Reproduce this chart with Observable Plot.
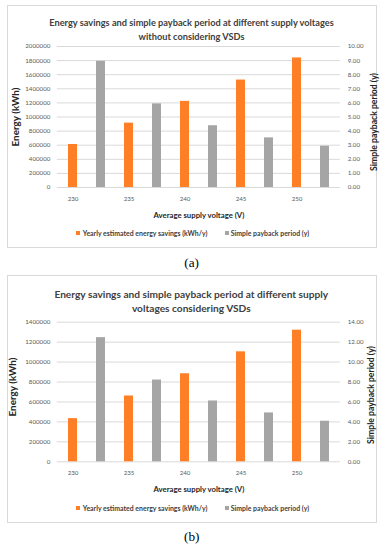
<!DOCTYPE html>
<html>
<head>
<meta charset="utf-8">
<script src="https://cdn.jsdelivr.net/npm/d3@7"></script>
<script src="https://cdn.jsdelivr.net/npm/@observablehq/plot@0.6"></script>
<style>
  html, body { margin: 0; padding: 0; background: #fff; }
  #root { position: relative; width: 383px; height: 550px; overflow: hidden; background: #fff; font-family: Lato, "Open Sans", sans-serif; }
  .box { position: absolute; border: 1px solid #d9d9d9; box-sizing: border-box; }
  .t { position: absolute; white-space: nowrap; line-height: 1; }
  .c { transform: translate(-50%, -50%); }
  .l { transform: translate(0, -50%); }
  .r { transform: translate(-50%, -50%) rotate(-90deg); }
  .sq { position: absolute; width: 4px; height: 4px; transform: translate(0, -50%); }
  .plot { position: absolute; }
  #measure { position: absolute; left: 0; top: 0; white-space: nowrap; font-size: 20px; visibility: hidden; }
</style>
</head>
<body>
<div id="root"></div>
<span id="measure"></span>
<script>
// ---- data ----
const voltages = [230, 235, 240, 245, 250];
// (a) without considering VSDs
const savingsA = [610000, 913000, 1222000, 1524000, 1838000];   // kWh/y
const paybackA = [8.95, 5.93, 4.38, 3.52, 2.93];                 // years
const energyTicksA = [0, 200000, 400000, 600000, 800000, 1000000, 1200000, 1400000, 1600000, 1800000, 2000000];
const paybackTicksA = [0, 1, 2, 3, 4, 5, 6, 7, 8, 9, 10];
// (b) considering VSDs
const savingsB = [433000, 660000, 883000, 1103000, 1320000];
const paybackB = [12.45, 8.2, 6.1, 4.9, 4.07];
const energyTicksB = [0, 200000, 400000, 600000, 800000, 1000000, 1200000, 1400000];
const paybackTicksB = [0, 2, 4, 6, 8, 10, 12, 14];

const titleA = ["Energy savings and simple payback period at different supply voltages", "without considering VSDs"];
const titleB = ["Energy savings and simple payback period at different supply", "voltages considering VSDs"];
const xTitle = "Average supply voltage (V)";
const yTitle = "Energy (kWh)";
const y2Title = "Simple payback period (y)";
const seriesNames = ["Yearly estimated energy savings (kWh/y)", "Simple payback period (y)"];
const colors = ["#ff7f27", "#a5a5a5"];

const FONT = "Lato";
const root = document.getElementById("root");
const meas = document.getElementById("measure");
function fit(str, weight, family, target) {
  meas.style.fontFamily = family;
  meas.style.fontWeight = weight;
  meas.textContent = str;
  const w = meas.getBoundingClientRect().width;
  return 20 * target / w;
}

const tickSize = fit("2000000", 400, FONT, 25);
const titleSizeA = fit(titleA[0], 700, FONT, 285);
const titleSizeB = fit(titleB[0], 700, FONT, 274);
const ySize = fit(yTitle, 700, FONT, 59);
const y2Size = fit(y2Title, 700, FONT, 98);
const xSize = fit(xTitle, 700, FONT, 91);
const legSize = fit(seriesNames[0], 700, FONT, 125);
const capSize = fit("(a)", 400, "'Liberation Serif'", 14.7);
meas.remove();

function text(str, x, y, cls, style) {
  const d = document.createElement("div");
  d.className = "t " + cls;
  d.textContent = str;
  d.style.left = x + "px";
  d.style.top = y + "px";
  Object.assign(d.style, style || {});
  root.appendChild(d);
  return d;
}

function chart(cfg) {
  const {savings, payback, eTicks, pTicks, left, top, width, height, mt, mb, ml, mr} = cfg;
  const ratio = eTicks[eTicks.length - 1] / pTicks[pTicks.length - 1];
  const rows = voltages.map((v, i) => ({v, s: savings[i], p: payback[i]}));
  const slot = (v, k) => k === 0 ? String(v) : v + "\u00b7";
  const slots = voltages.flatMap(v => [slot(v, 0), slot(v, 1)]);
  const svg = Plot.plot({
    width, height,
    marginTop: mt, marginBottom: mb, marginLeft: ml, marginRight: mr,
    style: {fontFamily: FONT + ", sans-serif", fontSize: tickSize.toFixed(2) + "px", color: "#595959", background: "transparent"},
    x: {type: "band", domain: slots, paddingInner: 0.69, paddingOuter: 0.345, align: 0.5},
    y: {domain: [0, eTicks[eTicks.length - 1]]},
    marks: [
      Plot.gridY(eTicks, {stroke: "#d9d9d9", strokeOpacity: 1}),
      Plot.barY(rows, {x: d => slot(d.v, 0), y: "s", fill: colors[0]}),
      Plot.barY(rows, {x: d => slot(d.v, 1), y: d => d.p * ratio, fill: colors[1]}),
      Plot.axisY(eTicks, {tickSize: 0, tickPadding: 7, tickFormat: d => String(d), label: null, fill: "#595959"}),
      Plot.axisY(pTicks.map(p => p * ratio), {anchor: "right", tickSize: 0, tickPadding: 7.5, tickFormat: d => (d / ratio).toFixed(2), label: null, fill: "#595959"}),
      Plot.axisX(voltages.map(v => slot(v, 0)), {tickSize: 0, tickPadding: 9, label: null, fill: "#595959"})
    ]
  });
  const wrap = document.createElement("div");
  wrap.className = "plot";
  wrap.style.left = left + "px";
  wrap.style.top = top + "px";
  wrap.appendChild(svg);
  root.appendChild(wrap);
}

function box(x, y, w, h) {
  const b = document.createElement("div");
  b.className = "box";
  Object.assign(b.style, {left: x + "px", top: y + "px", width: w + "px", height: h + "px"});
  root.appendChild(b);
}

const axisTitleStyle = s => ({fontWeight: "700", fontSize: s + "px", color: "#262626"});
const legendStyle = {fontWeight: "700", fontSize: legSize + "px", color: "#404040"};
const xTitleStyle = {fontWeight: "700", fontSize: xSize + "px", color: "#262626"};
const capStyle = {fontFamily: "'Liberation Serif', 'DejaVu Serif', serif", fontSize: capSize + "px", color: "#000"};

function panel(o) {
  box(7, o.top, 370, o.h);
  const ts = {fontWeight: "700", fontSize: o.ts + "px", color: "#404040"};
  text(o.title[0], o.tx, o.top + o.t1, "c", ts);
  text(o.title[1], o.tx, o.top + o.t1 + 14, "c", ts);
  chart({savings: o.savings, payback: o.payback, eTicks: o.eTicks, pTicks: o.pTicks,
         left: 7, top: o.top, width: 370, height: o.h, mt: o.mt, mb: o.mb, ml: 49.8, mr: 37.2});
  text(yTitle, o.ylx, o.top + o.yly, "r", axisTitleStyle(ySize));
  text(y2Title, o.yrx, o.top + o.yry, "r", axisTitleStyle(y2Size));
  text(xTitle, 199, o.top + o.xt, "c", xTitleStyle);
  const ly = o.top + o.lg;
  const s1 = document.createElement("div"); s1.className = "sq";
  Object.assign(s1.style, {left: "76px", top: ly + "px", background: colors[0]}); root.appendChild(s1);
  text(seriesNames[0], 82.7, ly, "l", legendStyle);
  const s2 = document.createElement("div"); s2.className = "sq";
  Object.assign(s2.style, {left: "224.5px", top: ly + "px", background: colors[1]}); root.appendChild(s2);
  text(seriesNames[1], 230.7, ly, "l", legendStyle);
  text(o.cap, 191.7, o.capY, "c", capStyle);
}

panel({top: 5, h: 243, title: titleA, ts: titleSizeA, tx: 191.5, t1: 17.7, savings: savingsA, payback: paybackA,
       eTicks: energyTicksA, pTicks: paybackTicksA, mt: 41, mb: 61,
       ylx: 15.7, yly: 112, yrx: 373.7, yry: 117, xt: 210.7, lg: 228.3, cap: "(a)", capY: 263});
panel({top: 275, h: 248, title: titleB, ts: titleSizeB, tx: 191.3, t1: 19.3, savings: savingsB, payback: paybackB,
       eTicks: energyTicksB, pTicks: paybackTicksB, mt: 46.7, mb: 61.7,
       ylx: 13.3, yly: 112, yrx: 371, yry: 120, xt: 215, lg: 232.7, cap: "(b)", capY: 537.3});
</script>
</body>
</html>
